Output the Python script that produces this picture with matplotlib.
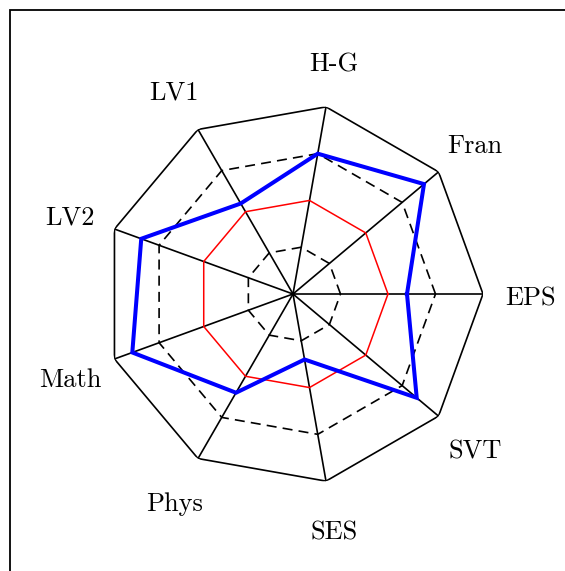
import numpy as np
import matplotlib
matplotlib.use("Agg")
import matplotlib.pyplot as plt
import matplotlib.transforms as mtransforms
from matplotlib.patches import Rectangle

# Subjects (counter-clockwise from the right) and grades out of 20
subjects = ["EPS", "Fran", "H-G", "LV1", "LV2", "Math", "Phys", "SES", "SVT"]
grades = [12, 18, 15, 11, 17, 18, 12, 7, 17]
max_grade = 20
ring_levels = [5, 15]      # dashed reference rings
mid_level = 10             # red ring at the average

W, H, DPI = 565, 571, 100
fig = plt.figure(figsize=(W / DPI, H / DPI), dpi=DPI)

# Box around the figure (open at the right and bottom)
fig.patches.append(Rectangle((10 / W, -0.1), 1.2, (H - 10) / H + 0.1,
                             transform=fig.transFigure, fill=False,
                             edgecolor="black", linewidth=1.3))

cx, cy, R = 293, H - 294, 190
ax = fig.add_axes([(cx - R) / W, (cy - R) / H, 2 * R / W, 2 * R / H],
                  projection="polar")
ax.set_axis_off()
ax.set_ylim(0, max_grade)

n = len(subjects)
theta = np.deg2rad(np.arange(n) * 360 / n)
closed = np.append(theta, theta[0])


def ring(level, **kw):
    ax.plot(closed, [level] * (n + 1), **kw)


# Spokes
for t in theta:
    ax.plot([t, t], [0, max_grade], color="black", lw=1.2)

# Outer polygon
ring(max_grade, color="black", lw=1.2)

# Dashed rings
for lvl in ring_levels:
    ring(lvl, color="black", lw=1.2, dashes=(6, 3.7))

# Average ring
ring(mid_level, color="red", lw=1.1)

# Grades
vals = np.append(grades, grades[0])
ax.plot(closed, vals, color="blue", lw=2.9, solid_joinstyle="miter")

# Subject labels
font = {"family": "cmr10", "size": 19}
shift = mtransforms.ScaledTranslation(0, -4.5 / DPI, fig.dpi_scale_trans)
for t, name in zip(theta, subjects):
    ax.text(t, max_grade * 1.25, name, ha="center", va="center",
            fontdict=font, clip_on=False, transform=ax.transData + shift)

fig.savefig("out.png", dpi=DPI)
